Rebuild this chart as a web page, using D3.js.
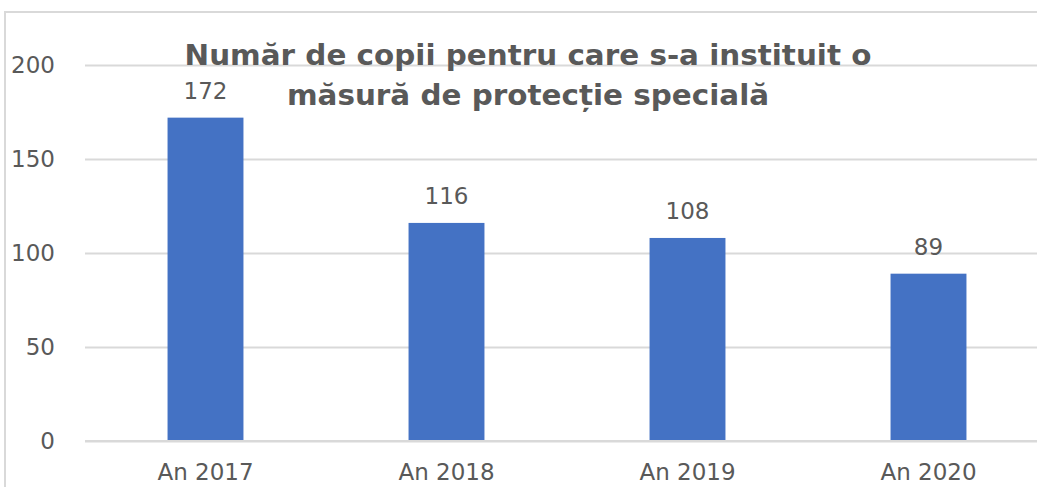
<!DOCTYPE html>
<html>
<head>
<meta charset="utf-8">
<script src="https://cdn.jsdelivr.net/npm/d3@7"></script>
<style>
  html, body { margin: 0; padding: 0; background: #fff; overflow: hidden; }
  text { font-family: "DejaVu Sans", sans-serif; fill: #595959; }
</style>
</head>
<body>
<div id="chart-container"></div>
<script>
// data
const years = ["An 2017", "An 2018", "An 2019", "An 2020"];
const counts = [172, 116, 108, 89];
const yTicks = [0, 50, 100, 150, 200];
const titleLines = ["Număr de copii pentru care s-a instituit o", "măsură de protecție specială"];

const width = 1037;
const height = 487;

const svg = d3
  .select("#chart-container")
  .append("svg")
  .attr("width", width)
  .attr("height", height);

// outer chart border (cropped on right and bottom)
svg
  .append("rect")
  .attr("x", 5)
  .attr("y", 12)
  .attr("width", 1100)
  .attr("height", 600)
  .attr("fill", "none")
  .attr("stroke", "#d9d9d9")
  .attr("stroke-width", 2);

// scales
const x = d3.scaleBand().domain(years).range([85, 1049]).paddingInner(0.685).paddingOuter(0.3425);
const y = d3.scaleLinear().domain([0, 200]).range([441, 65]);

// gridlines + y labels
const yAxis = d3
  .axisLeft(y)
  .tickValues(yTicks)
  .tickSize(-1000)
  .tickPadding(30);
svg
  .append("g")
  .attr("transform", "translate(85,0)")
  .call(yAxis)
  .call((g) => g.select(".domain").remove())
  .call((g) => g.selectAll("line").attr("stroke", "#d9d9d9").attr("stroke-width", 2))
  .call((g) =>
    g.selectAll("text").style("font-size", "23px").style("fill", "#595959").style("font-family", "DejaVu Sans")
  );

// bars
svg
  .selectAll(".bar")
  .data(counts)
  .enter()
  .append("rect")
  .attr("class", "bar")
  .attr("x", (d, i) => x(years[i]))
  .attr("y", (d) => y(d))
  .attr("width", x.bandwidth())
  .attr("height", (d) => y(0) - y(d))
  .attr("fill", "#4472c4");

// zero line on top
svg
  .append("line")
  .attr("x1", 85)
  .attr("x2", 1037)
  .attr("y1", y(0))
  .attr("y2", y(0))
  .attr("stroke", "#d9d9d9")
  .attr("stroke-width", 2);

// x axis labels
const xAxis = d3.axisBottom(x).tickSize(0).tickPadding(23);
svg
  .append("g")
  .attr("transform", `translate(0,${y(0)})`)
  .call(xAxis)
  .call((g) => g.select(".domain").remove())
  .call((g) =>
    g.selectAll("text").style("font-size", "23px").style("fill", "#595959").style("font-family", "DejaVu Sans")
  );

// data labels
svg
  .selectAll(".label")
  .data(counts)
  .enter()
  .append("text")
  .attr("class", "label")
  .attr("x", (d, i) => x(years[i]) + x.bandwidth() / 2)
  .attr("y", (d) => y(d) - 19)
  .attr("text-anchor", "middle")
  .style("font-size", "23px")
  .text((d) => d);

// title (slightly stretched horizontally like the original)
svg
  .selectAll(".title")
  .data(titleLines)
  .enter()
  .append("text")
  .attr("class", "title")
  .attr("transform", (d, i) => `translate(528,${65 + i * 40}) scale(1.07,1)`)
  .attr("text-anchor", "middle")
  .style("font-size", "27.5px")
  .style("font-weight", "bold")
  .text((d) => d);
</script>
</body>
</html>
